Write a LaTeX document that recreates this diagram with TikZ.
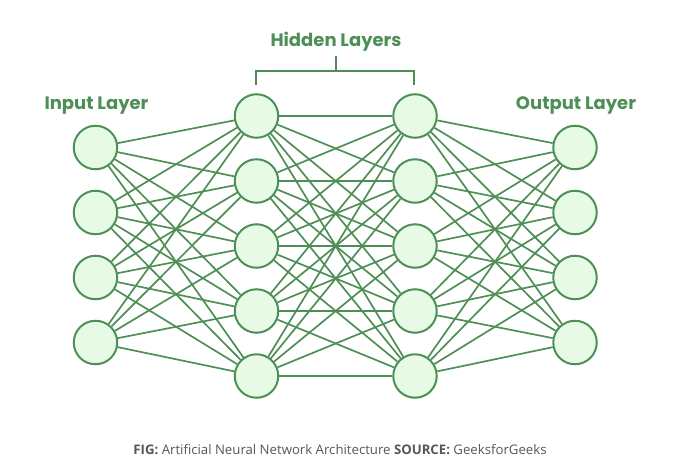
\documentclass[tikz,border=0pt]{standalone}
\usepackage{fontspec}
\setmainfont{Poppins}
\newfontfamily\capfont{Open Sans}
\definecolor{netgreen}{HTML}{4E8F55}
\definecolor{netfill}{HTML}{E6FAE6}
\definecolor{capgray}{HTML}{575757}
\tikzset{
  neuron/.style={circle, draw=netgreen, fill=netfill, line width=2pt, minimum size=43.5pt, inner sep=0pt},
  link/.style={draw=netgreen, line width=1.7pt},
  layerlabel/.style={text=netgreen, font=\bfseries\fontsize{18}{20}\selectfont, inner sep=0pt, anchor=base}
}
\begin{document}
\begin{tikzpicture}[x=1pt,y=-1pt]
\useasboundingbox (0,0) rectangle (680,458);

% input layer
\node[neuron] (in1) at (95.5,147.5) {};
\node[neuron] (in2) at (95.5,212.5) {};
\node[neuron] (in3) at (95.5,277.5) {};
\node[neuron] (in4) at (95.5,342.5) {};

% first hidden layer
\node[neuron] (ha1) at (256.5,116) {};
\node[neuron] (ha2) at (256.5,181) {};
\node[neuron] (ha3) at (256.5,246) {};
\node[neuron] (ha4) at (256.5,311) {};
\node[neuron] (ha5) at (256.5,376) {};

% second hidden layer
\node[neuron] (hb1) at (415,116) {};
\node[neuron] (hb2) at (415,181) {};
\node[neuron] (hb3) at (415,246) {};
\node[neuron] (hb4) at (415,311) {};
\node[neuron] (hb5) at (415,376) {};

% output layer
\node[neuron] (out1) at (575,147.5) {};
\node[neuron] (out2) at (575,212.5) {};
\node[neuron] (out3) at (575,277.5) {};
\node[neuron] (out4) at (575,342.5) {};

% connections
\foreach \i in {1,...,4}
  \foreach \j in {1,...,5}
    \draw[link] (in\i) -- (ha\j);
\foreach \i in {1,...,5}
  \foreach \j in {1,...,5}
    \draw[link] (ha\i) -- (hb\j);
\foreach \i in {1,...,5}
  \foreach \j in {1,...,4}
    \draw[link] (hb\i) -- (out\j);

% labels
\node[layerlabel] (inlabel) at (96.5,109) {Input Layer};
\node[layerlabel] (outlabel) at (576,109) {Output Layer};
\node[layerlabel] (hidlabel) at (336,46) {Hidden Layers};

% bracket
\coordinate (brl) at (256,85);
\coordinate (brr) at (414,85);
\coordinate (brtop) at (336,56);
\draw[netgreen, line width=1.8pt] (brl) -- (256,71) -- (414,71) -- (brr);
\draw[netgreen, line width=1.8pt] (brtop) -- (336,71);

% caption
\node[text=capgray, font=\capfont\fontsize{13.2}{15}\selectfont, inner sep=0pt, anchor=base] (caption) at (340,454)
  {\textbf{FIG:} Artificial Neural Network Architecture \textbf{SOURCE:} GeeksforGeeks};
\end{tikzpicture}
\end{document}
